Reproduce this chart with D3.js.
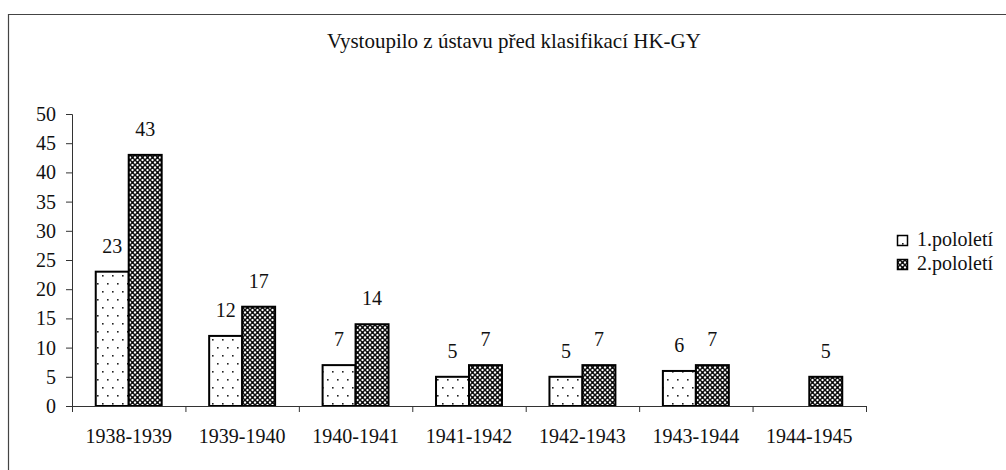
<!DOCTYPE html>
<html><head><meta charset="utf-8">
<script src="https://cdn.jsdelivr.net/npm/d3@7"></script>
<style>html,body{margin:0;padding:0;background:#fff;overflow:hidden}</style>
</head><body>
<svg id="c" width="1006" height="470"></svg>
<script>
const title = "Vystoupilo z ústavu před klasifikací HK-GY";
const categories = ["1938-1939","1939-1940","1940-1941","1941-1942","1942-1943","1943-1944","1944-1945"];
const seriesNames = ["1.pololetí","2.pololetí"];
const series1 = [23,12,7,5,5,6,null];
const series2 = [43,17,14,7,7,7,5];
const yTicks = [0,5,10,15,20,25,30,35,40,45,50];

const svg = d3.select("#c");
const FS = 20;
const defs = svg.append("defs");
// dotted pattern
const p1 = defs.append("pattern").attr("id","dots").attr("patternUnits","userSpaceOnUse")
  .attr("width",10).attr("height",16);
p1.append("rect").attr("width",10).attr("height",16).attr("fill","#fff");
p1.append("rect").attr("x",2).attr("y",3).attr("width",1.6).attr("height",1.6).attr("fill","#222");
p1.append("rect").attr("x",7).attr("y",11).attr("width",1.6).attr("height",1.6).attr("fill","#222");
// cross hatch pattern
const p2 = defs.append("pattern").attr("id","hatch").attr("patternUnits","userSpaceOnUse")
  .attr("width",5).attr("height",5);
p2.append("rect").attr("width",5).attr("height",5).attr("fill","#fff");
p2.append("path").attr("d","M0,0L5,5M5,0L0,5").attr("stroke","#111").attr("stroke-width",1.5);
p2.append("circle").attr("cx",2.5).attr("cy",2.5).attr("r",1).attr("fill","#000");
const fills = ["url(#dots)","url(#hatch)"];

function txt(g, x, y, s, anchor, fs){
  return g.append("text").attr("x",x).attr("y",y)
    .attr("text-anchor",anchor||"middle")
    .style("font-family",'"Liberation Serif"')
    .attr("font-size",fs||FS).attr("fill","#111").text(s);
}

// frame
svg.append("line").attr("x1",8).attr("x2",1006).attr("y1",14.5).attr("y2",14.5).attr("stroke","#444").attr("stroke-width",1.2);
svg.append("line").attr("x1",8.5).attr("x2",8.5).attr("y1",14).attr("y2",470).attr("stroke","#444").attr("stroke-width",1.2);

// title
txt(svg, 514, 48, title, "middle", 21);

const x0 = d3.scaleBand().domain(categories).range([72,866]).padding(0);
const x1 = d3.scaleBand().domain(seriesNames).range([0,x0.bandwidth()]).paddingInner(0).paddingOuter(0.72);
const y = d3.scaleLinear().domain([0,50]).range([406,114]);

// y axis
const ya = svg.append("g").attr("transform","translate(72,0)")
  .call(d3.axisLeft(y).tickValues(yTicks).tickSize(6).tickFormat(""));
ya.select(".domain").attr("stroke","#333");
ya.selectAll(".tick line").attr("stroke","#333");
yTicks.forEach(t => txt(svg, 56, y(t)+7, String(t), "end"));

// bars
const data = [series1, series2];
data.forEach((vals, si) => {
  svg.append("g").selectAll("rect").data(categories.map((c,i)=>({c, v: vals[i]})).filter(d=>d.v!=null))
    .join("rect")
    .attr("x", d => x0(d.c) + x1(seriesNames[si]))
    .attr("y", d => y(d.v))
    .attr("width", x1.bandwidth())
    .attr("height", d => y(0)-y(d.v))
    .attr("fill", fills[si]).attr("stroke","#000").attr("stroke-width",2);
  categories.forEach((c,i) => {
    if (vals[i]==null) return;
    txt(svg, x0(c)+x1(seriesNames[si])+x1.bandwidth()/2, y(vals[i])-19, String(vals[i]));
  });
});

// x axis
const xa = svg.append("g").attr("transform","translate(0,406)")
  .call(d3.axisBottom(d3.scaleLinear().domain([0,categories.length]).range([72,866]))
    .tickValues(d3.range(categories.length+1)).tickSize(6).tickSizeOuter(0).tickFormat(""));
xa.select(".domain").attr("stroke","#333");
xa.selectAll(".tick line").attr("stroke","#333");
categories.forEach(c => txt(svg, x0(c)+x0.bandwidth()/2, 443, c));

// legend
seriesNames.forEach((n,i) => {
  const yy = 235 + i*24;
  svg.append("rect").attr("x",897.5).attr("y",yy+0.5).attr("width",10).attr("height",10)
    .attr("fill",fills[i]).attr("stroke","#000").attr("stroke-width",1.5);
  txt(svg, 917, yy+11, n, "start");
});
</script>
</body></html>
